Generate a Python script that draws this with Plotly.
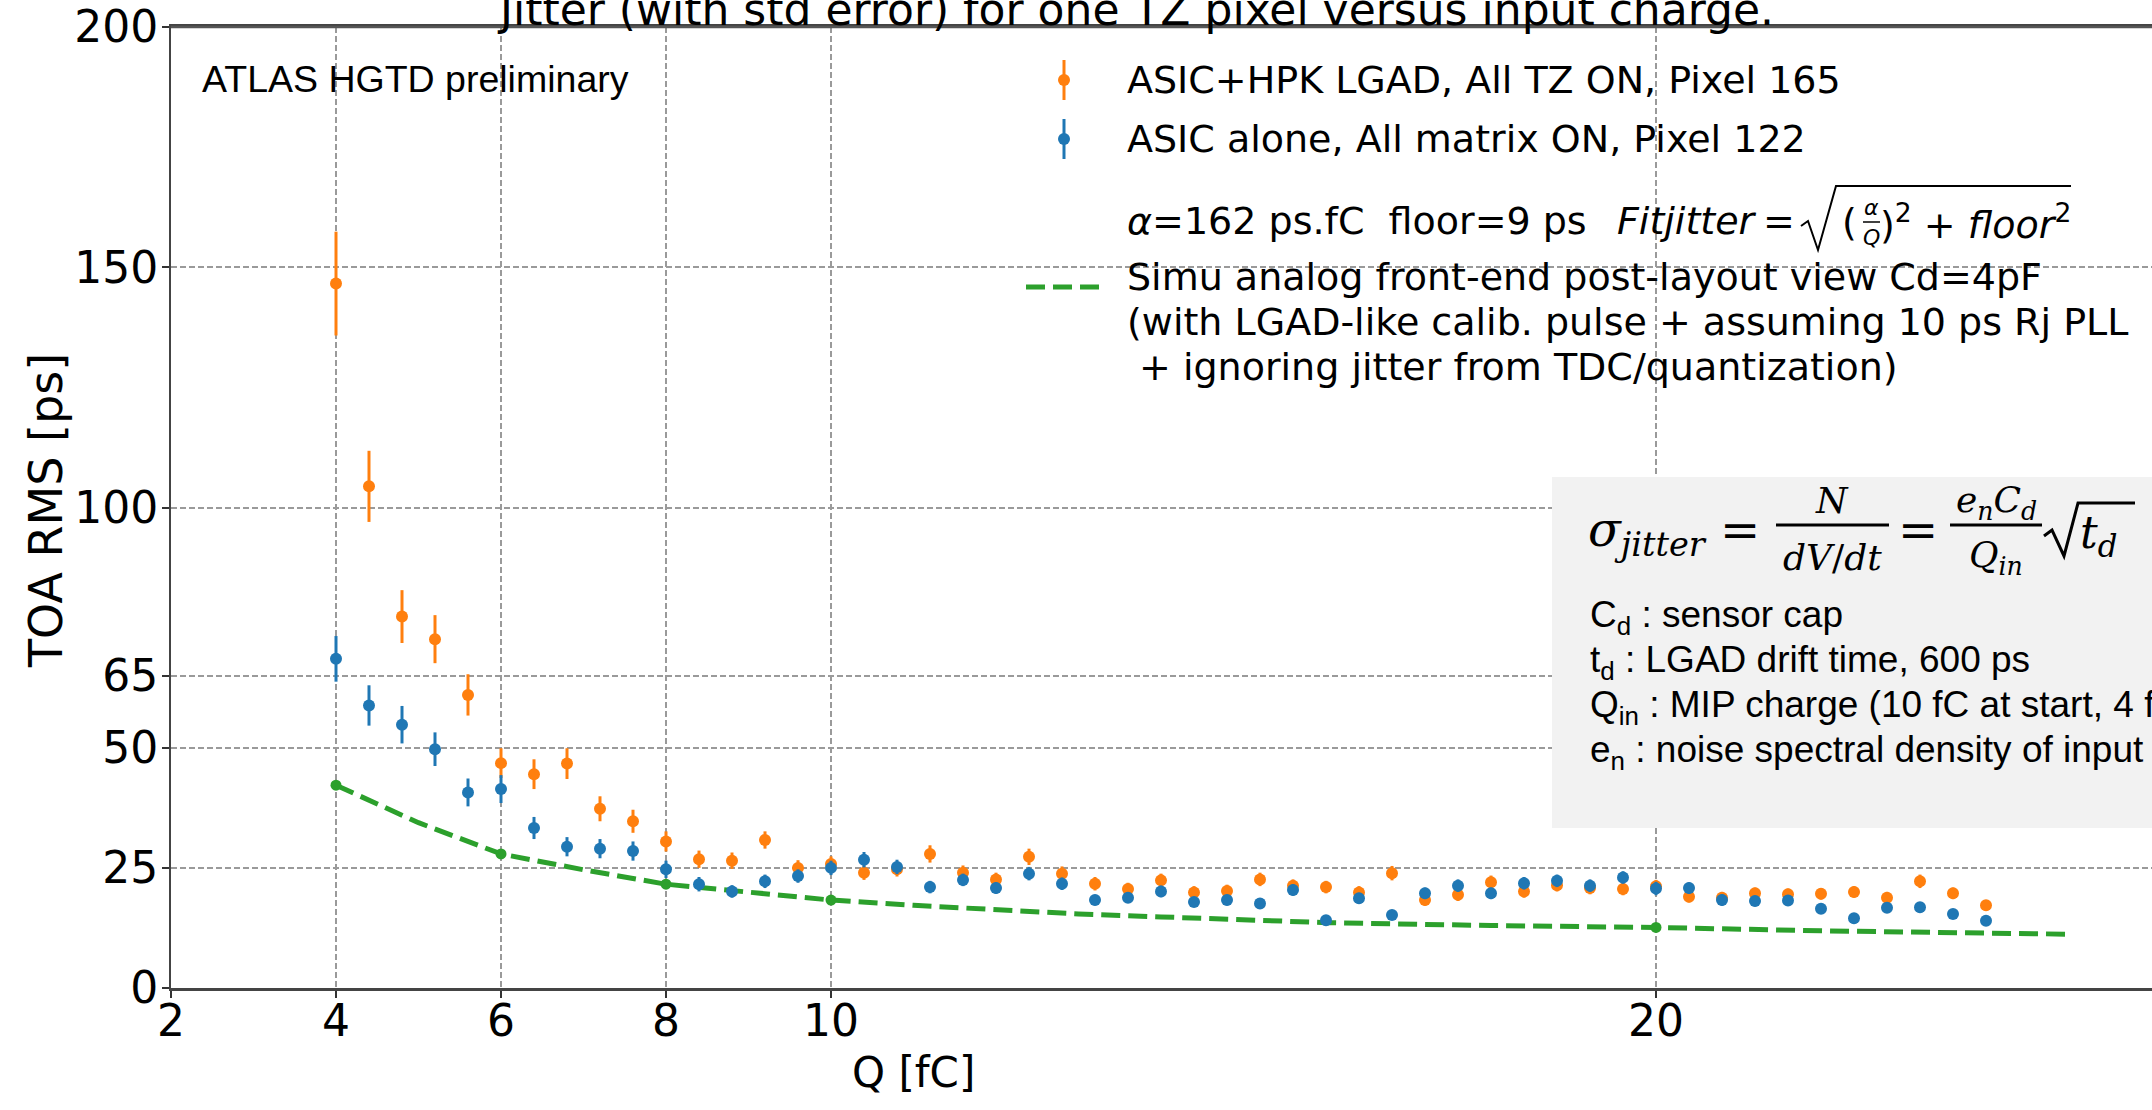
import plotly.graph_objects as go

# ---------------- data ----------------
charge_fc = [4.0, 4.4, 4.8, 5.2, 5.6, 6.0, 6.4, 6.8, 7.2, 7.6, 8.0, 8.4, 8.8, 9.2, 9.6,
             10.0, 10.4, 10.8, 11.2, 11.6, 12.0, 12.4, 12.8, 13.2, 13.6, 14.0, 14.4, 14.8,
             15.2, 15.6, 16.0, 16.4, 16.8, 17.2, 17.6, 18.0, 18.4, 18.8, 19.2, 19.6, 20.0,
             20.4, 20.8, 21.2, 21.6, 22.0, 22.4, 22.8, 23.2, 23.6, 24.0]

lgad_rms = [146.6, 104.4, 77.3, 72.6, 61.0, 46.8, 44.5, 46.7, 37.3, 34.7, 30.5, 26.8, 26.5, 30.8, 25.0,
            25.8, 24.0, 24.7, 27.9, 24.0, 22.6, 27.3, 23.8, 21.7, 20.6, 22.4, 19.9, 20.2,
            22.6, 21.3, 21.0, 19.9, 23.9, 18.3, 19.4, 22.0, 20.1, 21.4, 20.8, 20.6, 21.2,
            19.0, 18.8, 19.7, 19.5, 19.6, 20.0, 18.8, 22.2, 19.7, 17.2]
lgad_err = [10.8, 7.4, 5.5, 5.0, 4.3, 3.1, 3.1, 3.2, 2.6, 2.4, 2.1, 1.8, 1.7, 1.8, 1.6,
            1.6, 1.5, 1.5, 1.8, 1.5, 1.4, 1.7, 1.5, 1.4, 1.3, 1.4, 1.3, 1.3,
            1.4, 1.3, 1.3, 1.3, 1.5, 1.2, 1.3, 1.4, 1.3, 1.3, 1.3, 1.3, 1.3,
            1.2, 1.2, 1.2, 1.2, 1.2, 1.2, 1.2, 1.4, 1.2, 1.1]

asic_rms = [68.5, 58.8, 54.8, 49.7, 40.7, 41.4, 33.3, 29.4, 29.0, 28.5, 24.7, 21.6, 20.1, 22.2, 23.3,
            25.0, 26.7, 25.2, 21.0, 22.5, 20.8, 23.8, 21.7, 18.3, 18.8, 20.1, 17.9, 18.3,
            17.6, 20.4, 14.1, 18.7, 15.2, 19.7, 21.3, 19.7, 21.8, 22.3, 21.3, 23.0, 20.7,
            20.8, 18.3, 18.1, 18.2, 16.5, 14.5, 16.7, 16.8, 15.4, 14.0]
asic_err = [4.75, 4.2, 3.9, 3.5, 2.9, 2.9, 2.3, 2.0, 2.0, 2.0, 1.8, 1.5, 1.3, 1.4, 1.4,
            1.5, 1.6, 1.5, 1.3, 1.3, 1.2, 1.4, 1.3, 1.1, 1.1, 1.2, 1.0, 1.1,
            1.0, 1.2, 0.9, 1.1, 1.0, 1.2, 1.3, 1.2, 1.3, 1.3, 1.3, 1.3, 1.4,
            1.2, 1.2, 1.1, 1.1, 1.0, 0.9, 1.0, 1.0, 0.9, 0.9]

simu_charge = [4, 5, 6, 7, 8, 9, 10, 11, 12, 13, 14, 15, 16, 18, 20, 22, 24, 25]
simu_rms = [42.2, 34.4, 27.9, 24.6, 21.6, 20.0, 18.3, 17.2, 16.2, 15.4, 14.8, 14.2, 13.6, 13.0,
            12.6, 11.9, 11.4, 11.2]
simu_mark_charge = [4, 6, 8, 10, 20]
simu_mark_rms = [42.2, 27.9, 21.6, 18.3, 12.6]

x_ticks = [2, 4, 6, 8, 10, 20]
y_ticks = [0, 25, 50, 65, 100, 150, 200]

ORANGE = "#ff7f0e"
BLUE = "#1f77b4"
GREEN = "#2ca02c"

# ---------------- geometry (pixels) ----------------
W_FIG, H_FIG = 2152, 1110
L, R, T, B = 171, 2152, 27, 988
PW, PH = R - L, B - T


def px(x):
    return (x - L) / PW


def py(y):
    return (B - y) / PH


fig = go.Figure()

fig.add_trace(go.Scatter(
    x=simu_charge, y=simu_rms, mode="lines",
    line=dict(color=GREEN, width=5, dash="19px,8px"),
    name="Simu", showlegend=False, hoverinfo="skip"))
fig.add_trace(go.Scatter(
    x=simu_mark_charge, y=simu_mark_rms, mode="markers",
    marker=dict(color=GREEN, size=11), showlegend=False, hoverinfo="skip"))
fig.add_trace(go.Scatter(
    x=charge_fc, y=lgad_rms, mode="markers",
    marker=dict(color=ORANGE, size=12),
    error_y=dict(type="data", array=lgad_err, color=ORANGE, thickness=3, width=0),
    name="ASIC+HPK LGAD, All TZ ON, Pixel 165", showlegend=False))
fig.add_trace(go.Scatter(
    x=charge_fc, y=asic_rms, mode="markers",
    marker=dict(color=BLUE, size=12),
    error_y=dict(type="data", array=asic_err, color=BLUE, thickness=3, width=0),
    name="ASIC alone, All matrix ON, Pixel 122", showlegend=False))

TICKFONT = dict(family="DejaVu Sans", size=44, color="black")
GRID = dict(showgrid=True, gridcolor="#9a9a9a", gridwidth=1.5, griddash="6px,3px")

fig.update_xaxes(range=[2, 2 + PW / 82.5], tickmode="array", tickvals=x_ticks,
                 ticktext=[str(v) for v in x_ticks], tickfont=TICKFONT,
                 ticks="outside", ticklen=7, tickwidth=1.5, tickcolor="#333",
                 showline=True, linecolor="#444", linewidth=3, mirror=True,
                 zeroline=False, ticklabelstandoff=-15, ticklabeloverflow="allow", **GRID)
fig.update_yaxes(range=[0, 200], tickmode="array", tickvals=y_ticks,
                 ticktext=[str(v) for v in y_ticks], tickfont=TICKFONT,
                 ticks="outside", ticklen=7, tickwidth=1.5, tickcolor="#333",
                 showline=True, linecolor="#444", linewidth=2, zeroline=False,
                 ticklabelstandoff=-5, ticklabeloverflow="allow", **GRID)

ann = []
shapes = []


def text(x, y, s, size, family="DejaVu Sans", xanchor="left", yanchor="middle", angle=0, color="black"):
    ann.append(dict(x=px(x), y=py(y), xref="paper", yref="paper", text=s, showarrow=False,
                    xanchor=xanchor, yanchor=yanchor, textangle=angle,
                    font=dict(family=family, size=size, color=color)))


def seg(x0, y0, x1, y1, color="black", width=2, dash=None):
    shapes.append(dict(type="line", xref="paper", yref="paper", x0=px(x0), y0=py(y0),
                       x1=px(x1), y1=py(y1), line=dict(color=color, width=width, dash=dash)))


def path(points, color="black", width=2):
    d = "M " + " L ".join(f"{px(a):.5f},{py(b):.5f}" for a, b in points)
    shapes.append(dict(type="path", xref="paper", yref="paper", path=d,
                       line=dict(color=color, width=width)))


# top spine
seg(L, T, R + 10, T, "#555", 2.5)

# title (cut off at the top of the picture)
text(1135, 9, "Jitter (with std error) for one TZ pixel versus input charge.", 44, xanchor="center")

# axis titles
text(46, 511, "TOA RMS [ps]", 46, xanchor="center", angle=-90)
text(913, 1072, "Q [fC]", 42, xanchor="center")

# ATLAS label
text(200, 79, "ATLAS HGTD preliminary", 37.5, family="Liberation Sans, Arial")

# legend-like block
seg(1064, 60, 1064, 100, ORANGE, 3)
shapes.append(dict(type="circle", xref="paper", yref="paper", x0=px(1058), x1=px(1070),
                   y0=py(74), y1=py(86), fillcolor=ORANGE, line=dict(color=ORANGE, width=0)))
text(1125, 80, "ASIC+HPK LGAD, All TZ ON, Pixel 165", 38)
seg(1064, 119, 1064, 159, BLUE, 3)
shapes.append(dict(type="circle", xref="paper", yref="paper", x0=px(1058), x1=px(1070),
                   y0=py(133), y1=py(145), fillcolor=BLUE, line=dict(color=BLUE, width=0)))
text(1125, 139, "ASIC alone, All matrix ON, Pixel 122", 38)

text(1125, 221, "<i>α</i>=162 ps.fC  floor=9 ps", 38)
text(1615, 221, "<i>Fitjitter</i>", 38)
text(1779, 221, "=", 38, xanchor="center")
path([(1801, 226), (1808, 221), (1818, 250), (1836, 186), (2071, 186)], "black", 2)
text(1840, 222, "(", 38)
text(1871, 207, "<i>α</i>", 22, xanchor="center")
seg(1863, 222, 1880, 222, "black", 1.5)
text(1871, 238, "<i>Q</i>", 22, xanchor="center")
text(1878, 222, ")<sup>2</sup> + <i>floor</i><sup>2</sup>", 38)

seg(1026, 287, 1101, 287, GREEN, 5, "19px,8px")
text(1125, 277, "Simu analog front-end post-layout view Cd=4pF", 38)
text(1125, 322, "(with LGAD-like calib. pulse + assuming 10 ps Rj PLL", 38)
text(1137, 367, "+ ignoring jitter from TDC/quantization)", 38)

# grey formula box
shapes.append(dict(type="rect", xref="paper", yref="paper", x0=px(1552), x1=px(2160),
                   y0=py(828), y1=py(477), fillcolor="#f2f2f2", line=dict(width=0), layer="above"))
SERIF = "DejaVu Serif"
text(1586, 532, "<i>σ<sub>jitter</sub></i>", 48, family=SERIF)
text(1740, 530, "=", 48, family=SERIF, xanchor="center")
text(1832, 500, "<i>N</i>", 36, family=SERIF, xanchor="center")
seg(1776, 525, 1889, 525, "black", 3)
text(1832, 557, "<i>dV</i>/<i>dt</i>", 36, family=SERIF, xanchor="center")
text(1918, 530, "=", 48, family=SERIF, xanchor="center")
text(1996, 503, "<i>e<sub>n</sub>C<sub>d</sub></i>", 36, family=SERIF, xanchor="center")
seg(1950, 525, 2042, 525, "black", 3)
text(1996, 558, "<i>Q<sub>in</sub></i>", 36, family=SERIF, xanchor="center")
path([(2044, 536), (2052, 530), (2064, 556), (2078, 503), (2135, 503)], "black", 3)
text(2078, 535, "<i>t<sub>d</sub></i>", 44, family=SERIF)

BOXFONT = "Liberation Sans, Arial"
text(1588, 617, "C<sub>d</sub> : sensor cap", 37, family=BOXFONT)
text(1588, 662, "t<sub>d</sub> : LGAD drift time, 600 ps", 37, family=BOXFONT)
text(1588, 707, "Q<sub>in</sub> : MIP charge (10 fC at start, 4 fC at end)", 37, family=BOXFONT)
text(1588, 752, "e<sub>n</sub> : noise spectral density of input transistor", 37, family=BOXFONT)

fig.update_layout(
    width=W_FIG, height=H_FIG,
    margin=dict(l=L, r=W_FIG - R, t=T, b=H_FIG - B, pad=0),
    paper_bgcolor="white", plot_bgcolor="white",
    annotations=ann, shapes=shapes, showlegend=False,
)

fig.write_html("out.html", config={"displayModeBar": False},
               post_script="document.body.style.margin='0px';document.body.style.overflow='hidden';")
